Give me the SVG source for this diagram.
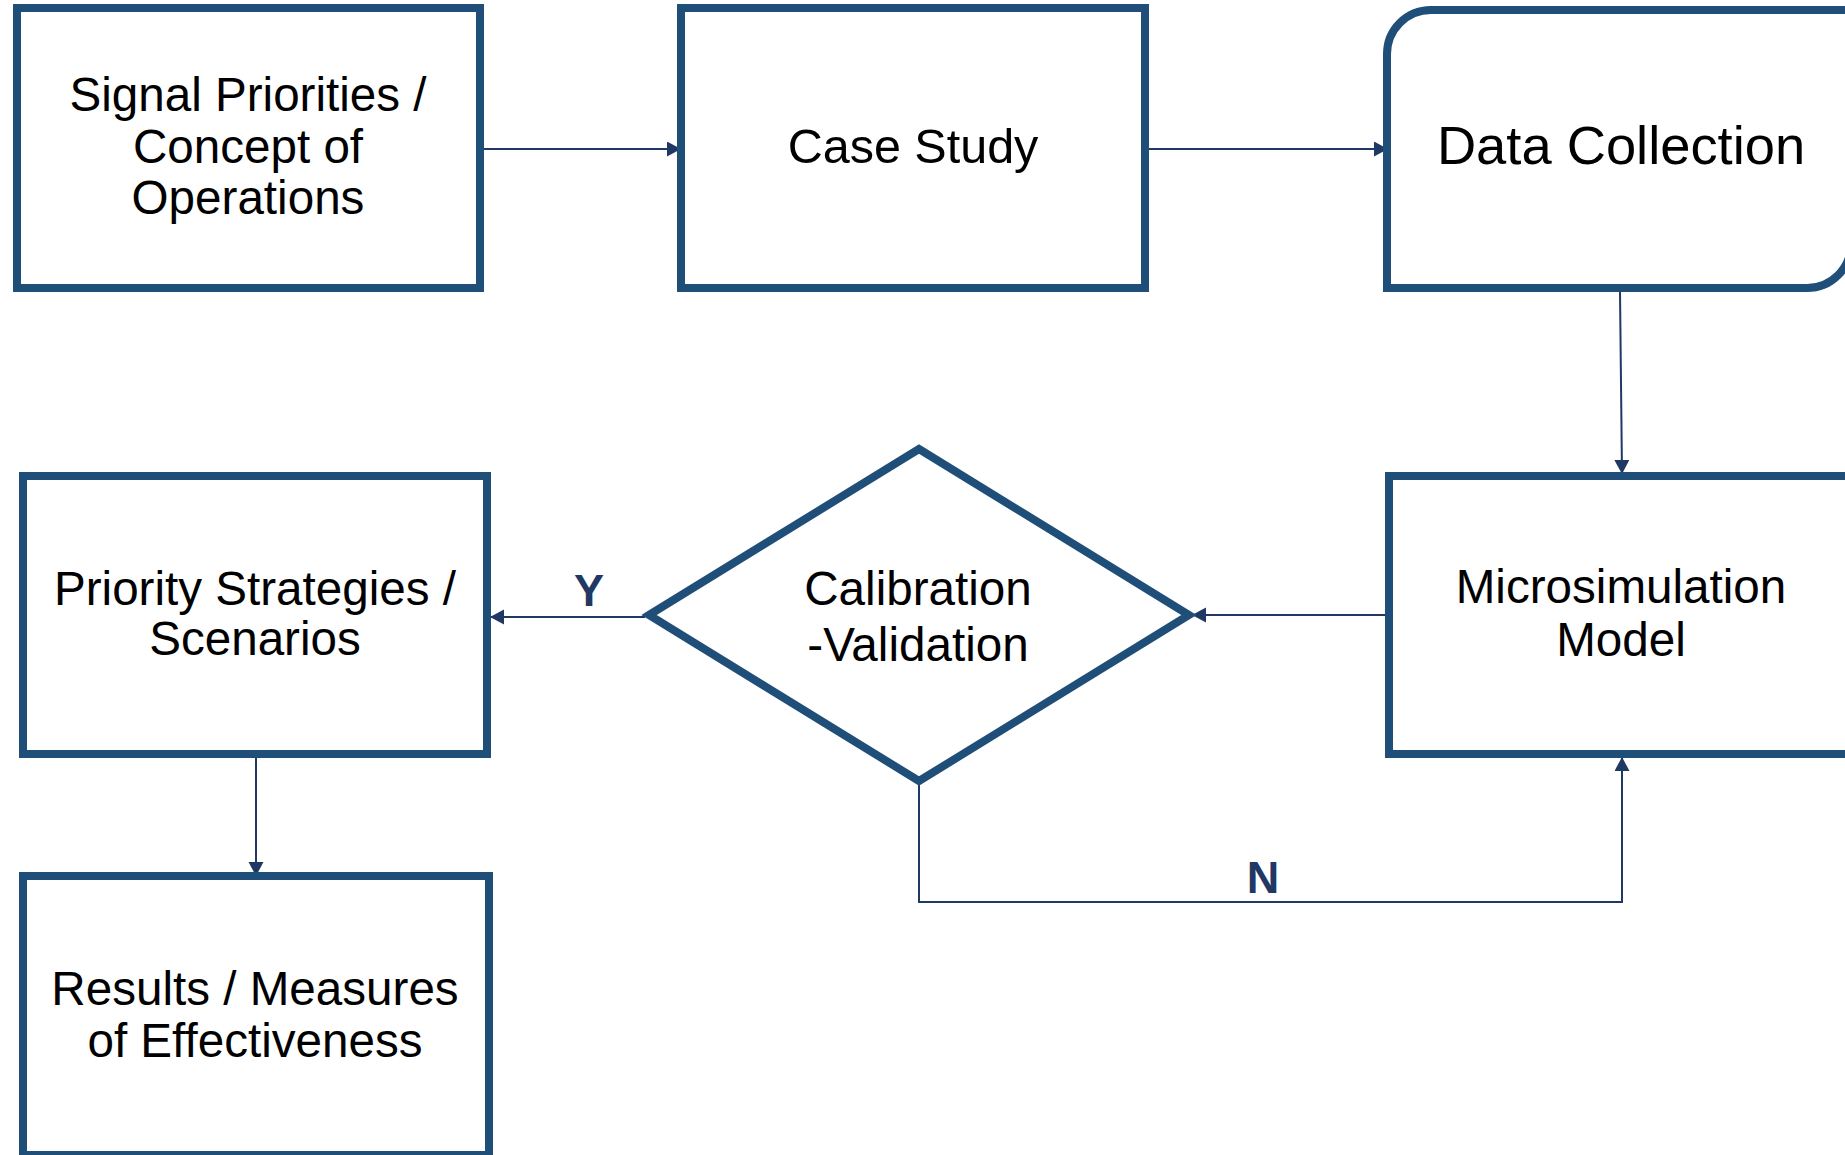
<svg xmlns="http://www.w3.org/2000/svg" width="1845" height="1155" viewBox="0 0 1845 1155">
<defs>
<style>
.node{fill:#fff;stroke:#1F4E79;stroke-width:8;stroke-linejoin:miter}
.lbl{font-family:"Liberation Sans",Arial,sans-serif;font-size:47.6px;fill:#000;text-anchor:middle}
.conn{fill:none;stroke:#203864;stroke-width:2}
.yn{font-family:"Liberation Sans",Arial,sans-serif;font-size:45px;font-weight:bold;fill:#1F3864;text-anchor:middle}
</style>
<marker id="arr" markerUnits="userSpaceOnUse" markerWidth="16" markerHeight="16" refX="14" refY="7.5" orient="auto">
<path d="M0,0 L14,7.5 L0,15 z" fill="#203864"/>
</marker>
</defs>
<rect width="1845" height="1155" fill="#fff"/>
<g id="connectors">
<path class="conn" d="M484,149 L681,149" marker-end="url(#arr)"/>
<path class="conn" d="M1149,149 L1388,149" marker-end="url(#arr)"/>
<path class="conn" d="M1620,292 L1622,474" marker-end="url(#arr)"/>
<path class="conn" d="M1385,615 L1192,615" marker-end="url(#arr)"/>
<path class="conn" d="M645,617 L490,617" marker-end="url(#arr)"/>
<path class="conn" d="M256,758 L256,876" marker-end="url(#arr)"/>
<path class="conn" d="M919,785 L919,902 L1622,902 L1622,757" marker-end="url(#arr)"/>
<text class="yn" x="589" y="606">Y</text>
<text class="yn" x="1263" y="893">N</text>
</g>
<g id="signal-priorities">
<rect class="node" x="17" y="8" width="463" height="280"/>
<text class="lbl" x="248" y="111">Signal Priorities /</text>
<text class="lbl" x="248" y="163">Concept of</text>
<text class="lbl" x="248" y="214">Operations</text>
</g>
<g id="case-study">
<rect class="node" x="681" y="8" width="464" height="280"/>
<text class="lbl" x="913" y="163" style="font-size:48.5px">Case Study</text>
</g>
<g id="data-collection">
<path class="node" d="M1387,288 L1387,54 A44,44 0 0 1 1431,10 L1851,10 L1851,244 A44,44 0 0 1 1807,288 Z"/>
<text class="lbl" x="1621" y="164" style="font-size:54.3px">Data Collection</text>
</g>
<g id="microsimulation-model">
<rect class="node" x="1389" y="476" width="470" height="278"/>
<text class="lbl" x="1621" y="603">Microsimulation</text>
<text class="lbl" x="1621" y="656">Model</text>
</g>
<g id="calibration-validation">
<polygon class="node" points="649,615 919,449 1189,615 919,781"/>
<text class="lbl" x="918" y="605">Calibration</text>
<text class="lbl" x="918" y="661">-Validation</text>
</g>
<g id="priority-strategies">
<rect class="node" x="23" y="476" width="464" height="278"/>
<text class="lbl" x="255" y="605">Priority Strategies /</text>
<text class="lbl" x="255" y="655">Scenarios</text>
</g>
<g id="results">
<rect class="node" x="23" y="876" width="466" height="279"/>
<text class="lbl" x="255" y="1005">Results / Measures</text>
<text class="lbl" x="255" y="1057">of Effectiveness</text>
</g>
</svg>
